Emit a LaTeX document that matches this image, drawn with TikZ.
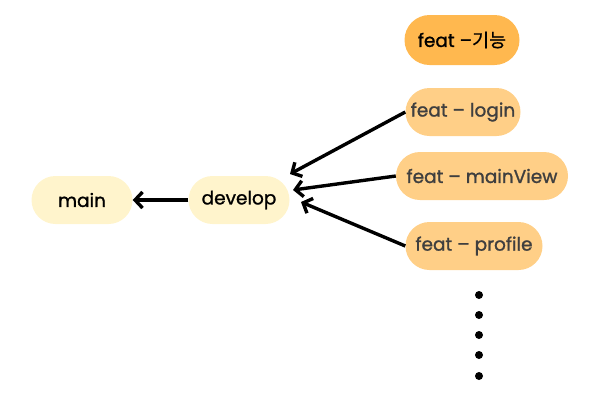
\documentclass[tikz,border=0pt]{standalone}
\usepackage{fontspec}
\setmainfont{Poppins}[FakeBold=1.2]
\newfontfamily\krfont{Noto Sans CJK KR}[FakeBold=0.6]
\usetikzlibrary{arrows.meta}
\definecolor{featdark}{HTML}{FFB84F}
\definecolor{featlight}{HTML}{FFCF87}
\definecolor{branch}{HTML}{FFF4CC}
\definecolor{textgray}{HTML}{3F3F3F}
\tikzset{
  pill/.style={draw=none, rounded corners=24pt, minimum height=48pt,
    inner sep=0pt, font=\fontsize{18.5}{20}\selectfont},
  mainpill/.style={pill, fill=branch, text=black, minimum width=101pt},
  featpill/.style={pill, fill=featlight, text=textgray},
  link/.style={line width=3.4pt, -{Straight Barb[length=7.5pt,width=16pt]}},
  dot/.style={circle, fill=black, inner sep=0pt, minimum size=8pt},
}
\begin{document}
\begin{tikzpicture}[x=1pt, y=-1pt]
  \useasboundingbox (0,0) rectangle (600,400);
  % branches
  \node[mainpill] (main) at (82,200) {main};
  \node[mainpill] (develop) at (239,200) {develop};
  % feature branches
  \node[pill, fill=featdark, text=black, minimum width=115pt, minimum height=50pt, rounded corners=25pt]
    (feat) at (462,40) {feat –{\krfont 기능}};
  \node[featpill, minimum width=115pt] (login) at (463,112) {feat – login};
  \node[featpill, minimum width=172pt] (mainview) at (482,176) {feat – mainView};
  \node[featpill, minimum width=137pt] (profile) at (474,246) {feat – profile};
  % arrow tips near develop
  \coordinate (tipA) at (290,174);
  \coordinate (tipB) at (293,190);
  \coordinate (tipC) at (301,202);
  \draw[link] (login.west) -- (tipA);
  \draw[link] (mainview.west) -- (tipB);
  \draw[link] (profile.west) -- (tipC);
  \draw[link] (develop.west) -- (main.east);
  % more features
  \foreach \i/\y in {1/295,2/315,3/335,4/355,5/376}
    \node[dot] (more\i) at (479,\y) {};
\end{tikzpicture}
\end{document}
